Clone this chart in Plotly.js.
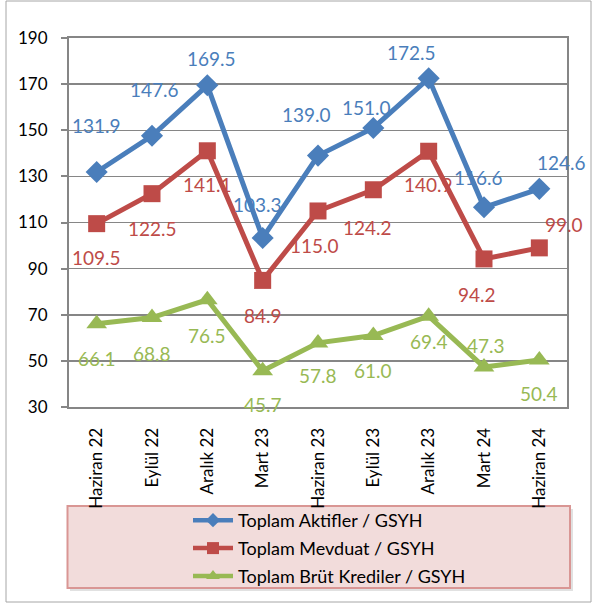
<!DOCTYPE html>
<html>
<head>
<meta charset="utf-8">
<script src="https://cdn.plot.ly/plotly-3.0.1.min.js"></script>
<style>
html,body{margin:0;padding:0;background:#fff;}
#chart{width:592px;height:604px;}
</style>
</head>
<body>
<div id="chart"></div>
<script>
// ---- data ----
const categories = ["Haziran 22","Eylül 22","Aralık 22","Mart 23","Haziran 23","Eylül 23","Aralık 23","Mart 24","Haziran 24"];
const seriesNames = ["Toplam Aktifler / GSYH","Toplam Mevduat / GSYH","Toplam Brüt Krediler / GSYH"];
const aktifler = [131.9,147.6,169.5,103.3,139.0,151.0,172.5,116.6,124.6];
const mevduat = [109.5,122.5,141.1,84.9,115.0,124.2,140.9,94.2,99.0];
const krediler = [66.1,68.8,76.5,45.7,57.8,61.0,69.4,47.3,50.4];
const yTicks = [30,50,70,90,110,130,150,170,190];

// ---- styles ----
const colors = ["#4a7ebb","#be4b48","#98b954"];
const symbols = ["diamond","square","triangle-up"];
const markerSizes = [17,17,18];
const legendMarkerSizes = [11,12,12];
const FONT = "Lato, 'Open Sans', sans-serif";
// label offsets in pixels [dx, dy] (dy positive = down)
const labelOffsets = [
  [[0,-46],[2,-46],[4,-27],[-5,-33],[-12,-41],[-7,-20],[-17,-26],[-6,-30],[22,-26]],
  [[0,34],[0,35],[0,34],[0,35],[-4,35],[-6,38],[0,33],[-7,36],[25,-23]],
  [[0,35],[0,36],[0,36],[0,34],[0,33],[0,35],[0,25],[2,-22],[0,34]]
];

const allSeries = [aktifler, mevduat, krediler];

const traces = allSeries.map((vals, i) => ({
  type: "scatter",
  mode: "lines+markers",
  name: seriesNames[i],
  x: categories,
  y: vals,
  showlegend: false,
  line: {color: colors[i], width: 5},
  marker: {color: colors[i], symbol: symbols[i], size: markerSizes[i], line: {width: 0}},
  cliponaxis: false,
  hoverinfo: "none"
}));
// legend entries (no data points, only the legend swatch)
allSeries.forEach((vals, i) => {
  traces.push({
    type: "scatter",
    mode: "lines+markers",
    name: seriesNames[i],
    x: [null], y: [null],
    legendgroup: "g" + i,
    showlegend: true,
    line: {color: colors[i], width: 4.5},
    marker: {color: colors[i], symbol: symbols[i], size: legendMarkerSizes[i], line: {width: 0}},
    hoverinfo: "none"
  });
});

const annotations = [];
allSeries.forEach((vals, i) => {
  vals.forEach((v, j) => {
    annotations.push({
      x: categories[j], y: v, xref: "x", yref: "y",
      text: v.toFixed(1), showarrow: false,
      xshift: labelOffsets[i][j][0], yshift: -labelOffsets[i][j][1],
      font: {family: FONT, size: 19, color: colors[i]}
    });
  });
});

// plot area: x 69..567, y 38..407
const PW = 498, PH = 369, L = 69, T = 38;
const px = v => (v - L) / PW;
const py = v => (T + PH - v) / PH;

const shapes = [
  // outer border
  {type: "rect", xref: "paper", yref: "paper", x0: px(6), x1: px(591), y0: py(602), y1: py(1),
   line: {color: "#a6a6a6", width: 1}, fillcolor: "rgba(0,0,0,0)", layer: "below"},
  // legend shadow
  {type: "rect", xref: "paper", yref: "paper", x0: px(70), x1: px(573), y0: py(591), y1: py(509),
   line: {width: 0}, fillcolor: "rgba(120,120,120,0.22)", layer: "below"},
  // legend box
  {type: "rect", xref: "paper", yref: "paper", x0: px(67.5), x1: px(570), y0: py(588), y1: py(506),
   line: {color: "#d99694", width: 2}, fillcolor: "#f2dcdb", layer: "below"}
];

const layout = {
  width: 592, height: 604,
  margin: {l: L, r: 592 - 567, t: T, b: 604 - 407, autoexpand: false},
  paper_bgcolor: "#ffffff",
  plot_bgcolor: "#ffffff",
  font: {family: FONT, color: "#000"},
  showlegend: true,
  legend: {
    x: px(188), xanchor: "left", y: py(502), yanchor: "top",
    bgcolor: "rgba(0,0,0,0)", borderwidth: 0,
    font: {family: FONT, size: 18, color: "#000"},
    tracegroupgap: 1.5, itemwidth: 40
  },
  xaxis: {
    type: "category",
    range: [-0.5, categories.length - 0.5],
    tickangle: -90,
    tickfont: {family: FONT, size: 17, color: "#000"},
    showline: true, linecolor: "#868686", linewidth: 2, mirror: true,
    showgrid: false, ticks: "", ticklabelstandoff: 12,
    zeroline: false, fixedrange: true, automargin: false
  },
  yaxis: {
    range: [30, 190],
    tickvals: yTicks,
    tickfont: {family: FONT, size: 17, color: "#000"},
    showline: true, linecolor: "#868686", linewidth: 2, mirror: true,
    showgrid: true, gridcolor: "#868686", gridwidth: 1.5,
    ticks: "outside", ticklen: 6, tickcolor: "#868686", tickwidth: 2,
    ticklabelstandoff: 10,
    zeroline: false, fixedrange: true, automargin: false
  },
  annotations: annotations,
  shapes: shapes
};

Plotly.newPlot("chart", traces, layout, {displayModeBar: false, staticPlot: true});
</script>
</body>
</html>
